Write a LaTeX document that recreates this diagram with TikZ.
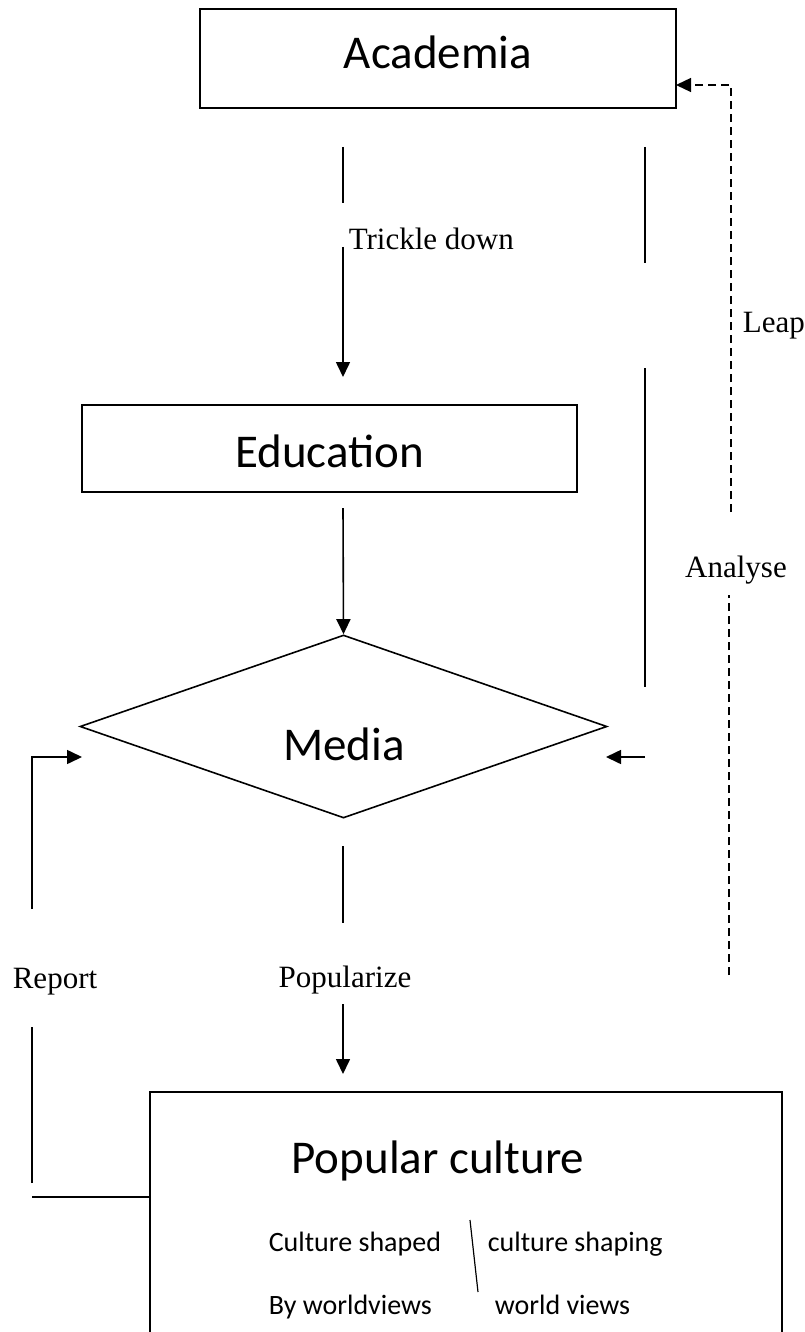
\documentclass[tikz,border=0pt]{standalone}
\usepackage{fontspec}
\setmainfont{Liberation Serif}
\newfontfamily\calib{Carlito}
\usetikzlibrary{arrows.meta,shapes.geometric}
\begin{document}
\begin{tikzpicture}[x=1pt,y=-1pt,line width=1.6pt,
  box/.style={draw,rectangle,inner sep=0pt,line width=1.6pt},
  dia/.style={draw,diamond,inner sep=0pt,line width=1.6pt},
  title/.style={font=\calib\fontsize{47}{56}\selectfont,inner sep=0pt},
  lbl/.style={font=\fontsize{31}{37}\selectfont,inner sep=0pt},
  small/.style={font=\calib\fontsize{28}{34}\selectfont,inner sep=0pt},
  arr/.style={-{Triangle[length=15pt,width=14pt]}},
  dsh/.style={dash pattern=on 8pt off 5pt,line width=1.3pt}]
\fill[white] (0,0) rectangle (805,1332);
\useasboundingbox (0,0) rectangle (805,1332);
% boxes
\node[box,minimum width=476pt,minimum height=99pt] (acad) at (438,58.5) {};
\node[title,anchor=base] (acadt) at (438,69) {Academia};
\node[box,minimum width=495pt,minimum height=87pt] (edu) at (329.5,448.5) {};
\node[title,anchor=base] (edut) at (329.5,467) {Education};
\node[dia,minimum width=527pt,minimum height=183pt] (media) at (343.5,726.5) {};
\node[title,anchor=base] (mediat) at (344,760) {Media};
\node[box,minimum width=632pt,minimum height=260pt] (pop) at (466,1222) {};
\node[title,anchor=base] (popt) at (438,1173) {Popular culture};
\node[small,anchor=base west] (cs1) at (268,1251) {Culture shaped};
\node[small,anchor=base west] (cs2) at (487,1251) {culture shaping};
\node[small,anchor=base west] (bw1) at (268,1314) {By worldviews};
\node[small,anchor=base west] (bw2) at (494,1314) {world views};
\coordinate (s1) at (470,1220);
\coordinate (s2) at (478,1292);
\draw[line width=1.2pt] (s1) -- (s2);
% labels
\node[lbl,anchor=base west] (trick) at (348,250) {Trickle down};
\node[lbl,anchor=base west] (leap) at (742,332) {Leap};
\node[lbl,anchor=base] (anal) at (736,577) {Analyse};
\node[lbl,anchor=base] (rep) at (55,988) {Report};
\node[lbl,anchor=base] (popz) at (345,987) {Popularize};
% trickle down
\coordinate (a1) at (343,147);
\coordinate (a2) at (343,203);
\coordinate (a3) at (343,247);
\coordinate (a4) at (343,377);
\draw (a1) -- (a2);
\draw[arr] (a3) -- (a4);
% education to media
\coordinate (b1) at (343,508);
\draw[arr] (b1) -- (media.north);
% media to popular culture
\coordinate (c1) at (343,846);
\coordinate (c2) at (343,923);
\coordinate (c3) at (343,1004);
\coordinate (c4) at (343,1074);
\draw (c1) -- (c2);
\draw[arr] (c3) -- (c4);
% right solid lines
\coordinate (r1) at (645,147);
\coordinate (r2) at (645,263);
\coordinate (r3) at (645,368);
\coordinate (r4) at (645,687);
\coordinate (r5) at (645,757);
\coordinate (r6) at (606,757);
\draw (r1) -- (r2);
\draw (r3) -- (r4);
\draw[arr] (r5) -- (r6);
% report loop
\coordinate (l1) at (32,1197);
\coordinate (l2) at (32,1183);
\coordinate (l3) at (32,1027);
\coordinate (l4) at (32,909);
\coordinate (l5) at (82,757);
\draw (pop.west |- l1) -- (l1);
\draw (l2) -- (l3);
\draw[arr] (l4) |- (l5);
% leap / analyse dashed
\coordinate (d1) at (729,975);
\coordinate (d2) at (729,595);
\coordinate (d3) at (731,512);
\coordinate (d4) at (676,85);
\draw[dsh] (d1) -- (d2);
\draw[dsh,arr] (d3) |- (d4);
\end{tikzpicture}
\end{document}
